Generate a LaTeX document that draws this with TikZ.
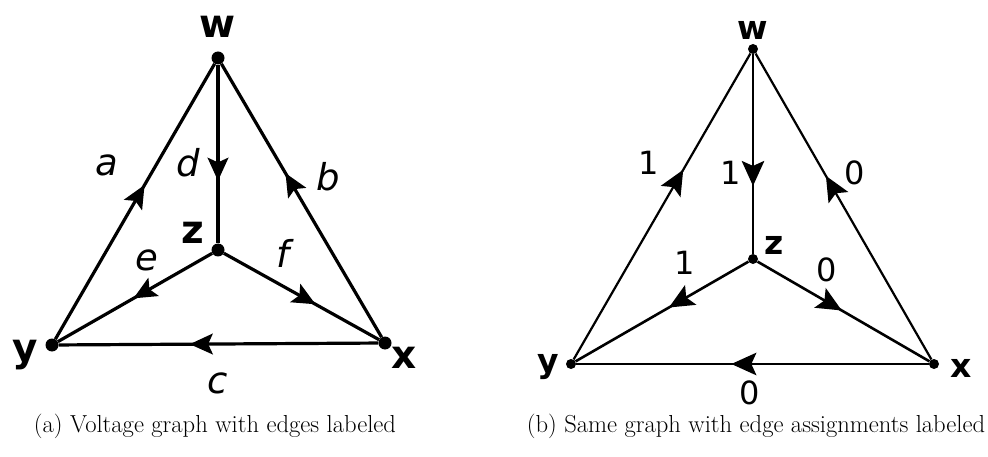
\documentclass[tikz,border=0pt]{standalone}
\usepackage{fontspec}
\newfontfamily\graphfont{DejaVu Sans}
\usetikzlibrary{arrows.meta,decorations.markings}

\begin{document}
\begin{tikzpicture}[
  x=1pt, y=-1pt,
  vertex/.style={circle, fill=black, inner sep=0pt, minimum size=#1},
  vlabel/.style={font=\graphfont\bfseries\fontsize{#1}{#1}\selectfont, inner sep=0pt},
  elabel/.style={font=\graphfont\itshape\fontsize{37}{37}\selectfont, inner sep=0pt},
  nlabel/.style={font=\graphfont\fontsize{32}{32}\selectfont, inner sep=0pt},
  midarrow/.style 2 args={postaction={decorate}, decoration={markings,
      mark=at position #1 with {\arrow{Stealth[length=#2, width=0.9*#2, inset=0.2*#2]}}}},
  caption/.style={font=\fontsize{24.6}{29}\selectfont, inner sep=0pt}]
  \useasboundingbox (0,0) rectangle (988,457);

  % (a) edges labeled
  \node[vertex=13pt] (wa) at (218,58) {};
  \node[vertex=13pt] (za) at (218,250) {};
  \node[vertex=13pt] (ya) at (52,345) {};
  \node[vertex=13pt] (xa) at (385,343) {};
  \node[vlabel=39] at (218,27) {w};
  \node[vlabel=39] at (193,233) {z};
  \node[vlabel=39] at (25,355) {y};
  \node[vlabel=39] at (404,358) {x};
  \begin{scope}[line width=3.2pt]
    \draw[midarrow={0.56}{23pt}] (ya) -- (wa);
    \draw[midarrow={0.65}{23pt}] (wa) -- (za);
    \draw[midarrow={0.60}{23pt}] (xa) -- (wa);
    \draw[midarrow={0.51}{23pt}] (za) -- (ya);
    \draw[midarrow={0.59}{23pt}] (za) -- (xa);
    \draw[midarrow={0.59}{23pt}] (xa) -- (ya);
  \end{scope}
  \node[elabel] at (107,165) {a};
  \node[elabel] at (188,163) {d};
  \node[elabel] at (328,177) {b};
  \node[elabel] at (147,260) {e};
  \node[elabel] at (283,253) {f};
  \node[elabel] at (218,383) {c};
  \node[caption] at (215,426) {(a) Voltage graph with edges labeled};

  % (b) edge assignments labeled
  \node[vertex=10pt] (wb) at (753,49) {};
  \node[vertex=10pt] (zb) at (753,259) {};
  \node[vertex=10pt] (yb) at (571,364) {};
  \node[vertex=10pt] (xb) at (934,364) {};
  \node[vlabel=33] at (753,30) {w};
  \node[vlabel=33] at (774,245) {z};
  \node[vlabel=33] at (548,367) {y};
  \node[vlabel=33] at (961,368) {x};
  \begin{scope}[line width=2.2pt]
    \draw[midarrow={0.62}{25pt}] (yb) -- (wb);
    \draw[midarrow={0.66}{25pt}] (wb) -- (zb);
    \draw[midarrow={0.60}{25pt}] (xb) -- (wb);
    \draw[midarrow={0.46}{25pt}, line width=2.6pt] (zb) -- (yb);
    \draw[midarrow={0.49}{25pt}, line width=2.6pt] (zb) -- (xb);
    \draw[midarrow={0.56}{25pt}] (xb) -- (yb);
  \end{scope}
  \node[nlabel] at (649,163) {1};
  \node[nlabel] at (731,173) {1};
  \node[nlabel] at (855,173) {0};
  \node[nlabel] at (685,263) {1};
  \node[nlabel] at (827,270) {0};
  \node[nlabel] at (750,393) {0};
  \node[caption] at (756,426) {(b) Same graph with edge assignments labeled};
\end{tikzpicture}
\end{document}
